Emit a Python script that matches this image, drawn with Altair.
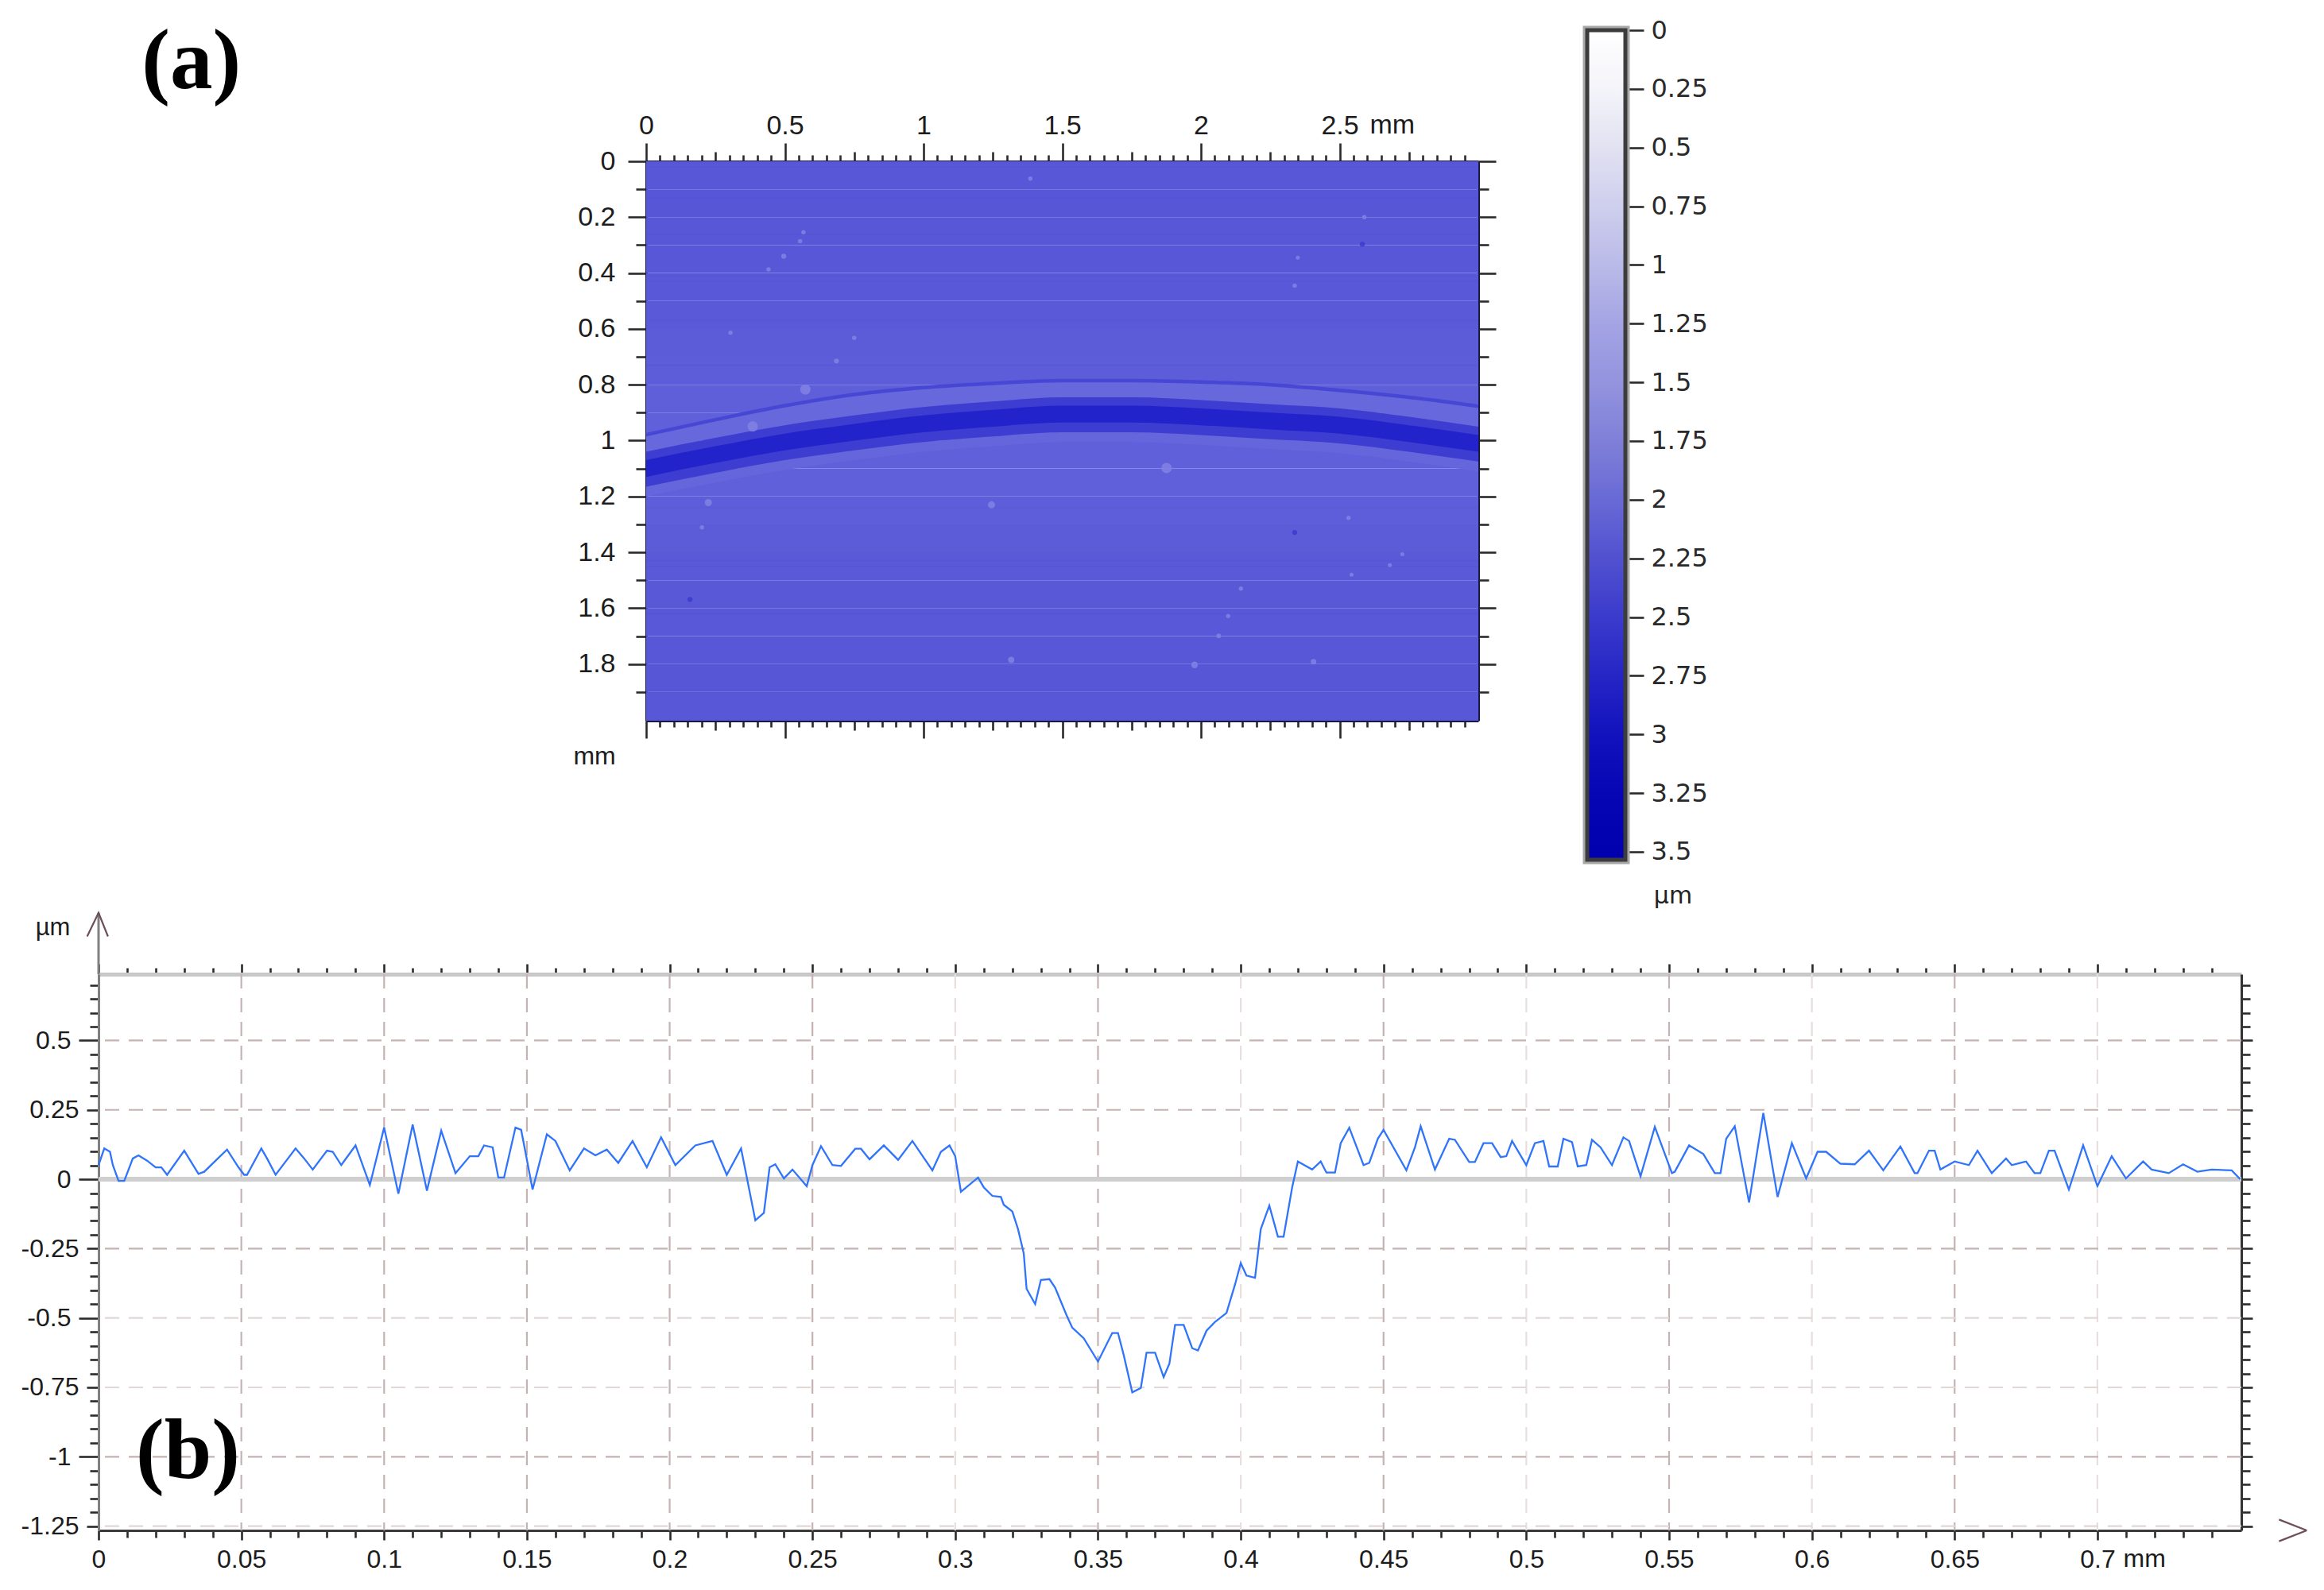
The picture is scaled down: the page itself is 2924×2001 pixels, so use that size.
import altair as alt
import pandas as pd

# ---------- profile (b) ----------
profile_x = [0,.002,.004,.005,.007,.009,.012,.014,.017,.020,.022,.024,.030,.035,.037,.041,.045,.049,.051,.052,.057,.059,.062,.069,.072,.075,.080,.082,.085,.090,.095,.100,.105,.110,.115,.120,.125,.130,.133,.135,.138,.140,.142,.146,.148,.152,.157,.160,.165,.170,.174,.178,.182,.187,.192,.197,.202,.209,.215,.220,.225,.230,.233,.235,.237,.240,.243,
 .248,.250,.253,.257,.260,.265,.267,.270,.275,.280,.285,.292,.295,.298,.300,.302,.308,.310,.313,.316,.317,.320,.322,.324,.325,.328,.330,.333,.335,.339,.341,.345,.350,.355,.357,.359,.362,.365,.367,.370,.373,.375,.377,.380,.383,.385,.388,.391,.395,.398,.400,.402,.405,.407,.410,.413,.415,.418,.420,.425,.428,.430,.433,.435,.438,.443,.445,.448,.450,.458,.461,.463,.468,.473,.475,.480,.482,.485,.488,.491,.493,.495,.500,.503,.506,.508,.511,.513,.516,.518,.521,
 .523,.526,.530,.534,.536,.540,.545,.551,.552,.557,.562,.566,.568,.570,.573,.578,.583,.588,.593,.598,.602,.605,.610,.615,.620,.625,.631,.636,.637,.641,.643,.645,.650,.655,.658,.663,.668,.670,.675,.678,.680,.683,.685,.690,.695,.700,.705,.710,.716,.719,.725,.730,.735,.740,.747,.750]
profile_y = [.051,.111,.099,.051,-.006,-.006,.075,.086,.067,.043,.043,.016,.103,.019,.027,.067,.107,.043,.016,.016,.111,.075,.016,.111,.075,.035,.103,.099,.051,.122,-.021,.186,-.052,.197,-.041,.175,.022,.083,.083,.122,.115,.006,.006,.186,.178,-.037,.162,.138,.032,.111,.086,.107,.059,.138,.043,.151,.051,.122,.138,.016,.111,-.148,-.121,.043,.054,.003,.035,
 -.025,.051,.119,.051,.048,.110,.110,.072,.122,.070,.138,.032,.099,.122,.083,-.045,.006,-.029,-.060,-.064,-.092,-.116,-.180,-.267,-.395,-.450,-.363,-.360,-.391,-.490,-.535,-.573,-.657,-.554,-.554,-.633,-.768,-.752,-.625,-.625,-.713,-.665,-.525,-.525,-.609,-.617,-.546,-.514,-.482,-.379,-.302,-.347,-.355,-.180,-.095,-.207,-.207,-.029,.064,.035,.064,.024,.024,.130,.186,.051,.059,.146,.178,.032,.115,.191,.035,.146,.142,.062,.062,.130,.130,.080,.083,.138,.051,.130,.138,.046,.046,.146,.134,.046,.051,
 .142,.115,.051,.151,.138,.011,.189,.022,.027,.122,.091,.022,.022,.146,.191,-.084,.239,-.064,.130,.003,.099,.099,.056,.054,.103,.032,.118,.022,.022,.103,.103,.035,.064,.051,.103,.022,.075,.051,.064,.022,.022,.103,.103,-.037,.122,-.025,.083,.003,.064,.035,.022,.054,.027,.035,.032,.000]
grid_x_strong = [.05,.1,.15,.2,.25,.35,.45,.55,.65]
grid_x_faint = [.3,.4,.5,.6,.7]
grid_y_strong = [.5,.25,-.25,-1]
grid_y_faint = [-.5,-.75,-1.25]
b_x_ticks = [round(i*.01,2) for i in range(0,75)]
b_y_ticks = [round(-1.25+i*.05,2) for i in range(0,40)]
y_arrow_x = [-.004,0,.0033]
y_arrow_y = [.875,.96,.875]
stem_x = [0,0]
stem_y = [.739,.96]
x_arrow_wing = [0,0,1,1]
x_arrow_x = [.7636,.7733,.7636,.7733]
x_arrow_y = [-1.2265,-1.2655,-1.3045,-1.2655]

# ---------- map (a) ----------
band_x = [0,.25,.5,.75,1,1.25,1.5,1.75,2,2.25,2.5,2.75,3]
core_top = [1.07,1.02,.975,.94,.91,.89,.875,.875,.885,.90,.915,.945,.98]
core_bot = [1.13,1.08,1.035,1.00,.97,.95,.935,.935,.945,.96,.975,1.005,1.04]
outer_top = [1.04,.99,.945,.91,.88,.86,.845,.845,.855,.87,.885,.915,.95]
outer_bot = [1.165,1.115,1.07,1.035,1.005,.985,.97,.97,.98,.995,1.01,1.04,1.075]
thin_line = [.979,.925,.875,.835,.81,.795,.785,.785,.79,.80,.82,.845,.877]
halo_bot = [1.20,1.15,1.105,1.07,1.04,1.02,1.005,1.005,1.015,1.03,1.045,1.075,1.11]
row_top = [0,.1,.2,.3,.4,.5,.6,.7,.8,.9,1.0,1.1,1.2,1.3,1.4,1.5,1.6,1.7,1.8,1.9]
row_bot = [.1,.2,.3,.4,.5,.6,.7,.8,.9,1.0,1.1,1.2,1.3,1.4,1.5,1.6,1.7,1.8,1.9,2.003]
row_depth = [2.30,2.31,2.30,2.29,2.27,2.24,2.20,2.17,2.14,2.12,2.11,2.12,2.16,2.20,2.24,2.26,2.28,2.30,2.31,2.30]
stripe_y = [.02,.13,.26,.41,.43,.57,.73,1.24,1.43,1.45,1.62,1.9]
speck_x = [1.385,.567,.555,.496,.441,.304,.750,.686,.574,.384,1.876,1.245,.224,.201,2.338,2.349,2.589,2.532,2.726,2.681,2.543,2.144,2.098,2.064,1.977,1.316,2.406]
speck_y = [.062,.254,.286,.340,.387,.614,.632,.715,.817,.949,1.098,1.230,1.222,1.311,.445,.345,.200,1.277,1.407,1.446,1.480,1.530,1.628,1.699,1.803,1.785,1.792]
speck_area = [30,30,30,40,30,30,30,40,170,170,170,80,80,30,30,25,30,30,25,25,25,30,30,35,70,60,50]
pit_x = [2.582,.158,2.338]
pit_y = [.297,1.569,1.329]
a_x_ticks = [round(i*.05,2) for i in range(0,60)]
a_y_ticks = [round(i*.1,1) for i in range(0,20)]

# ---------- colour bar ----------
bar_ticks = [0,.25,.5,.75,1,1.25,1.5,1.75,2,2.25,2.5,2.75,3,3.25,3.5]
bar_offsets = [0,.07,.14,.21,.29,.36,.43,.5,.57,.64,.71,.79,.86,.93,1]
bar_colors = ["#ffffff","#f4f4fa","#e2e2f2","#cfcfee","#b8b8e8","#a2a2e4","#9292de","#7e7ed8","#6868d6","#5050d0","#3a3acc","#2222c4","#1010bc","#0505b4","#0000ae"]

SANS = "Liberation Sans"
INK = "#1c1c1c"
one = pd.DataFrame({"v": [0]})

def ticks_axis(orient, values, tests, short, labels=True, label_test=None, domain_color="#222", domain_width=3, font=SANS, size=32, pad=8):
    kw = {}
    if labels:
        kw = dict(labelExpr=f"({label_test}) ? '' + datum.value : ''", labelFont=font, labelFontSize=size,
                  labelColor=INK, labelPadding=pad, labelOverlap=False, labelFlush=False, labelBound=False)
    return alt.Axis(orient=orient, values=values, title=None, grid=False, labels=labels,
                    tickSize={"condition": [{"test": t, "value": v} for t, v in tests], "value": short},
                    tickWidth=2.6, tickColor="#2a2a2a", domainColor=domain_color, domainWidth=domain_width, **kw)

# ---- panel (b) -----
bx = alt.Scale(domain=[0, .7504], nice=False, zero=False)
by = alt.Scale(domain=[-1.2655, .739], nice=False, zero=False)
X = lambda f="x": alt.X(f, type="quantitative", scale=bx, axis=None)
Y = lambda f="y": alt.Y(f, type="quantitative", scale=by, axis=None)
BX5 = "round(datum.value*1000)%50===0"
B25 = "round(datum.value*100)%25===0"
B50 = "round(datum.value*100)%50===0"

prof = pd.DataFrame({"x": profile_x, "y": profile_y})
dash = dict(strokeDash=[18, 12], strokeWidth=2.2)
b_layers = [
    alt.Chart(pd.DataFrame({"x": grid_x_faint})).mark_rule(color="#e8dede", **dash).encode(x=X()),
    alt.Chart(pd.DataFrame({"x": grid_x_strong})).mark_rule(color="#c6b2b2", **dash).encode(x=X()),
    alt.Chart(pd.DataFrame({"y": grid_y_faint})).mark_rule(color="#e2d6d6", **dash).encode(y=Y()),
    alt.Chart(pd.DataFrame({"y": grid_y_strong})).mark_rule(color="#c6b2b2", **dash).encode(y=Y()),
    alt.Chart(pd.DataFrame({"y": [0]})).mark_rule(color="#cfcfcf", strokeWidth=6).encode(y=Y()),
    alt.Chart(prof).mark_line(color="#2f74fa", strokeWidth=2.3, interpolate="linear", clip=False).encode(x=X(), y=Y()),
    alt.Chart(one).mark_point(opacity=0).encode(
        x=alt.X("v:Q", scale=bx, axis=ticks_axis("bottom", b_x_ticks, [(BX5, 12)], 9, label_test=BX5, domain_color="#3a3a3a", pad=9)),
        y=alt.Y("v:Q", scale=by, axis=ticks_axis("left", b_y_ticks, [(B50, 25), (B25, 15)], 11, label_test=B25, domain_color="#808080", pad=10))),
    alt.Chart(one).mark_point(opacity=0).encode(
        x=alt.X("v:Q", scale=bx, axis=ticks_axis("top", b_x_ticks, [(BX5, 13)], 8, labels=False, domain_color="#c8c8c8", domain_width=5)),
        y=alt.Y("v:Q", scale=by, axis=ticks_axis("right", b_y_ticks, [(B25, 14)], 11, labels=False, domain_color="#333333"))),
    alt.Chart(pd.DataFrame({"x": stem_x, "y": stem_y})).mark_line(color="#808080", strokeWidth=3, clip=False).encode(x=X(), y=Y()),
    alt.Chart(pd.DataFrame({"x": y_arrow_x, "y": y_arrow_y})).mark_line(color="#6e4f58", strokeWidth=2.2, clip=False).encode(x=X(), y=Y()),
    alt.Chart(pd.DataFrame({"x": x_arrow_x, "y": x_arrow_y, "w": x_arrow_wing})).mark_line(color="#6e4f58", strokeWidth=2.2, clip=False).encode(x=X(), y=Y(), detail="w:N"),
    alt.Chart(pd.DataFrame({"x": [-.016], "y": [.906], "t": ["µm"]})).mark_text(font=SANS, fontSize=31, color=INK, clip=False).encode(x=X(), y=Y(), text="t:N"),
    alt.Chart(pd.DataFrame({"x": [.7165], "y": [-1.37], "t": ["mm"]})).mark_text(font=SANS, fontSize=32, color=INK, clip=False).encode(x=X(), y=Y(), text="t:N"),
    alt.Chart(pd.DataFrame({"x": [.0313], "y": [-.985], "t": ["(b)"]})).mark_text(font="Liberation Serif", fontWeight="bold", fontSize=107, color="#000000", clip=False).encode(x=X(), y=Y(), text="t:N"),
]
panel_b = alt.layer(*b_layers).resolve_axis(x="independent", y="independent").properties(width=2696, height=700)

# ---- panel (a) -----
ax = alt.Scale(domain=[0, 3], nice=False, zero=False)
ay = alt.Scale(domain=[2.003, 0], nice=False, zero=False)
AX = lambda f="x": alt.X(f, type="quantitative", scale=ax, axis=None)
AY = lambda f="y": alt.Y(f, type="quantitative", scale=ay, axis=None)
AX2 = lambda f: alt.X2(f)
AY2 = lambda f: alt.Y2(f)
A50 = "round(datum.value*100)%50===0"
A25 = "round(datum.value*100)%25===0"
AY2T = "round(datum.value*10)%2===0"

rows = pd.DataFrame({"y": row_top, "y2": row_bot, "d": row_depth, "x": [0]*20, "x2": [3]*20})
bands = pd.DataFrame({"x": band_x, "core_top": core_top, "core_bot": core_bot, "outer_top": outer_top,
                      "outer_bot": outer_bot, "thin": thin_line, "halo": halo_bot})
def band(top, bot, color):
    return alt.Chart(bands).mark_area(color=color, interpolate="monotone").encode(x=AX(), y=AY(top), y2=AY2(bot))

a_layers = [
    alt.Chart(rows).mark_rect(stroke=None).encode(
        x=AX(), x2=AX2("x2"), y=AY(), y2=AY2("y2"),
        color=alt.Color("d:Q", legend=None, scale=alt.Scale(domain=[2.11, 2.31], range=["#6060db", "#5656d7"]))),
    alt.Chart(pd.DataFrame({"y": stripe_y})).mark_rule(color="#4a4ad2", strokeWidth=1.5, opacity=.15).encode(y=AY()),
    band("thin", "outer_top", "#6868dd"),
    band("outer_bot", "halo", "#6666dc"),
    band("outer_top", "outer_bot", "#3d3dd2"),
    band("core_top", "core_bot", "#2323cb"),
    alt.Chart(bands).mark_line(color="#4747d5", strokeWidth=4.5, interpolate="monotone").encode(x=AX(), y=AY("thin")),
    alt.Chart(pd.DataFrame({"x": speck_x, "y": speck_y, "s": speck_area})).mark_circle(color="#7f7fe2", opacity=.9).encode(
        x=AX(), y=AY(), size=alt.Size("s:Q", scale=None, legend=None)),
    alt.Chart(pd.DataFrame({"x": pit_x, "y": pit_y})).mark_circle(color="#3535cc", size=40).encode(x=AX(), y=AY()),
    alt.Chart(one).mark_point(opacity=0).encode(
        x=alt.X("v:Q", scale=ax, axis=ticks_axis("top", a_x_ticks, [(A50, 23), (A25, 12)], 8, label_test=A50, domain_color="#1a1a40", pad=5, size=34)),
        y=alt.Y("v:Q", scale=ay, axis=ticks_axis("left", a_y_ticks, [(AY2T, 23)], 13, label_test=AY2T, domain_color="#1a1a40", pad=16, size=34))),
    alt.Chart(one).mark_point(opacity=0).encode(
        x=alt.X("v:Q", scale=ax, axis=ticks_axis("bottom", a_x_ticks, [(A50, 22), (A25, 12)], 8, labels=False, domain_color="#1a1a40")),
        y=alt.Y("v:Q", scale=ay, axis=ticks_axis("right", a_y_ticks, [(AY2T, 22)], 13, labels=False, domain_color="#1a1a40"))),
    alt.Chart(pd.DataFrame({"x": [2.69], "y": [-.128], "t": ["mm"]})).mark_text(font=SANS, fontSize=34, color=INK, clip=False).encode(x=AX(), y=AY(), text="t:N"),
    alt.Chart(pd.DataFrame({"x": [-.186], "y": [2.132], "t": ["mm"]})).mark_text(font=SANS, fontSize=32, color=INK, clip=False).encode(x=AX(), y=AY(), text="t:N"),
    alt.Chart(pd.DataFrame({"x": [-1.64], "y": [-.353], "t": ["(a)"]})).mark_text(font="Liberation Serif", fontWeight="bold", fontSize=107, color="#000000", clip=False).encode(x=AX(), y=AY(), text="t:N"),
]
panel_a = alt.layer(*a_layers).resolve_axis(x="independent", y="independent").properties(width=1047, height=704)

# ---- colour bar -----
cx = alt.Scale(domain=[0, 1], nice=False, zero=False)
cy = alt.Scale(domain=[3.534, 0], nice=False, zero=False)
stops = [alt.GradientStop(offset=o, color=c) for o, c in zip(bar_offsets, bar_colors)]
grad = alt.Gradient(gradient="linear", x1=0, x2=0, y1=0, y2=1, stops=stops)
bar_rect = pd.DataFrame({"x": [0], "x2": [1], "y": [0], "y2": [3.534]})
bar_axis = alt.Axis(orient="right", values=bar_ticks, title=None, grid=False, domain=False, tickSize=23, tickWidth=2.6,
                    tickColor="#2a2a2a", labelFont="DejaVu Sans", labelFontSize=32, labelColor="#2a2a2a", labelPadding=9,
                    labelExpr="'' + datum.value", labelOverlap=False, labelBound=False, labelFlush=False)
colorbar = alt.layer(
    alt.Chart(bar_rect).mark_rect(fill=grad, stroke="#a8a8a8", strokeWidth=11).encode(
        x=alt.X("x:Q", scale=cx, axis=None), x2="x2:Q", y=alt.Y("y:Q", scale=cy, axis=None), y2="y2:Q"),
    alt.Chart(bar_rect).mark_rect(fill=grad, stroke="#3c3c3c", strokeWidth=5).encode(
        x=alt.X("x:Q", scale=cx, axis=None), x2="x2:Q", y=alt.Y("y:Q", scale=cy, axis=None), y2="y2:Q"),
    alt.Chart(pd.DataFrame({"x": [2.25], "y": [3.69], "t": ["µm"]})).mark_text(font="DejaVu Sans", fontSize=30, color="#222", clip=False).encode(
        x=alt.X("x:Q", scale=cx, axis=None), y=alt.Y("y:Q", scale=cy, axis=None), text="t:N"),
    alt.Chart(one).mark_point(opacity=0).encode(y=alt.Y("v:Q", scale=cy, axis=bar_axis)),
).resolve_axis(y="independent").properties(width=48, height=1044)

def spacer(w, h):
    return alt.Chart(one).mark_point(opacity=0).properties(width=w, height=h)

top = alt.hconcat(spacer(54, 10), alt.vconcat(spacer(10, 6), panel_a, spacing=-20), spacer(107, 10), colorbar, spacing=0)
chart = alt.vconcat(top, panel_b, spacing=-2).properties(padding={"left": 18, "top": 14, "right": 0, "bottom": 0}).configure_view(stroke=None)
chart.save("out.html", embed_options={"renderer": "svg", "actions": False})
